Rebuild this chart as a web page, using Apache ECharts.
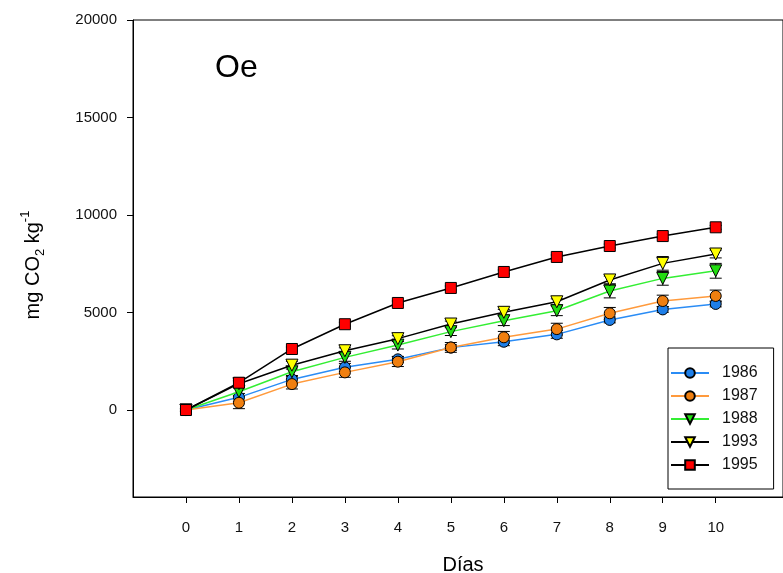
<!DOCTYPE html>
<html>
<head>
<meta charset="utf-8">
<script src="https://cdn.jsdelivr.net/npm/echarts@6/dist/echarts.min.js"></script>
<style>
  html, body { margin: 0; padding: 0; background: #fff; }
  #chart { width: 783px; height: 573px; }
</style>
</head>
<body>
<div id="chart"></div>
<script>
// datos
const days = [0, 1, 2, 3, 4, 5, 6, 7, 8, 9, 10];
const years = ['1986', '1987', '1988', '1993', '1995'];
const s1986 = [0, 650, 1570, 2190, 2600, 3200, 3500, 3880, 4620, 5160, 5440];
const s1987 = [0, 370, 1330, 1930, 2480, 3210, 3730, 4150, 4960, 5590, 5850];
const s1988 = [0, 940, 1960, 2700, 3330, 4020, 4580, 5090, 6100, 6750, 7140];
const s1993 = [0, 1350, 2300, 3040, 3660, 4410, 5010, 5550, 6670, 7520, 8000];
const s1995 = [0, 1400, 3130, 4400, 5490, 6260, 7080, 7850, 8410, 8920, 9370];
// errores (barras)
const e1986 = [60, 200, 200, 200, 150, 150, 200, 200, 150, 150, 150];
const e1987 = [60, 300, 250, 250, 250, 250, 300, 300, 300, 300, 300];
const e1988 = [60, 200, 250, 200, 200, 200, 250, 250, 350, 350, 380];
const e1993 = [60, 150, 200, 150, 150, 150, 150, 150, 200, 350, 200];
const e1995 = [60, 100, 100, 100, 100, 100, 100, 100, 100, 100, 100];
const yTicks = [0, 5000, 10000, 15000, 20000];

const chart = echarts.init(document.getElementById('chart'));

const font = 'Liberation Sans, Arial, sans-serif';

const styles = [
  { line: '#2a8cf5', fill: '#1f7fe8', symbol: 'circle', size: 11, rotate: 0 },
  { line: '#ff9a3c', fill: '#f07f10', symbol: 'circle', size: 11, rotate: 0 },
  { line: '#33ee33', fill: '#22dd11', symbol: 'triangle', size: 12, rotate: 180 },
  { line: '#000000', fill: '#ffff00', symbol: 'triangle', size: 12, rotate: 180 },
  { line: '#000000', fill: '#ff0000', symbol: 'rect', size: 11, rotate: 0 }
];
const values = [s1986, s1987, s1988, s1993, s1995];
const errors = [e1986, e1987, e1988, e1993, e1995];

// barras de error con custom series
function errorSeries(vals, errs) {
  return {
    type: 'custom',
    silent: true,
    z: 1,
    data: days.map((d, i) => [d, vals[i], errs[i]]),
    renderItem: function (params, api) {
      const x = api.value(0), y = api.value(1), e = api.value(2);
      const top = api.coord([x, y + e]);
      const bot = api.coord([x, y - e]);
      const w = 6;
      const st = { stroke: '#000', lineWidth: 1 };
      return {
        type: 'group',
        children: [
          { type: 'line', shape: { x1: top[0], y1: top[1], x2: bot[0], y2: bot[1] }, style: st },
          { type: 'line', shape: { x1: top[0] - w, y1: top[1], x2: top[0] + w, y2: top[1] }, style: st },
          { type: 'line', shape: { x1: bot[0] - w, y1: bot[1], x2: bot[0] + w, y2: bot[1] }, style: st }
        ]
      };
    }
  };
}

const series = [];
values.forEach((vals, k) => {
  series.push(errorSeries(vals, errors[k]));
});
values.forEach((vals, k) => {
  const s = styles[k];
  series.push({
    name: years[k],
    type: 'line',
    z: 2 + k,
    data: days.map((d, i) => [d, vals[i]]),
    symbol: s.symbol,
    symbolSize: s.size,
    symbolRotate: s.rotate,
    showAllSymbol: true,
    lineStyle: { color: s.line, width: 1.5 },
    itemStyle: { color: s.fill, borderColor: '#000', borderWidth: 1, opacity: 1 },
    emphasis: { disabled: true }
  });
});

const option = {
  animation: false,
  backgroundColor: '#fff',
  grid: {
    left: 133, top: 20, width: 680, height: 477,
    show: true, borderColor: '#000', borderWidth: 1
  },
  xAxis: {
    type: 'value',
    min: -1,
    max: 11.27,
    splitLine: { show: false },
    axisLine: { show: true, onZero: false, lineStyle: { color: '#000', width: 1 } },
    axisTick: { show: true, customValues: days, length: 6, lineStyle: { color: '#000' } },
    axisLabel: {
      customValues: days, margin: 23,
      color: '#111', fontSize: 15, fontFamily: font
    }
  },
  yAxis: {
    type: 'value',
    min: -4460,
    max: 20000,
    splitLine: { show: false },
    axisLine: { show: true, onZero: false, lineStyle: { color: '#000', width: 1 } },
    axisTick: { show: true, customValues: yTicks, length: 6, lineStyle: { color: '#000' } },
    axisLabel: {
      customValues: yTicks, margin: 16,
      color: '#111', fontSize: 15, fontFamily: font,
      formatter: function (v) { return String(v); }
    }
  },
  legend: {
    left: 668,
    top: 348,
    orient: 'vertical',
    data: years,
    backgroundColor: '#fff',
    borderColor: '#000',
    borderWidth: 1,
    borderRadius: 0,
    padding: [17, 16, 16, 2],
    itemWidth: 38,
    itemHeight: 12,
    itemGap: 7,
    textStyle: { color: '#111', fontSize: 16, fontFamily: font, padding: [0, 0, 0, 8] }
  },
  graphic: [
    {
      type: 'text', left: 215, top: 52,
      style: { text: 'Oe', fontSize: 32, fontFamily: font, fill: '#000' }
    },
    {
      type: 'text', x: 33, y: 265, rotation: Math.PI / 2,
      style: {
        text: 'mg CO{sub|2} kg{sup|-1}',
        fontSize: 20, fontFamily: font, fill: '#000',
        align: 'center', verticalAlign: 'middle', lineHeight: 28,
        rich: {
          sub: { fontSize: 13, fontFamily: font, fill: '#000', verticalAlign: 'bottom', lineHeight: 28 },
          sup: { fontSize: 13, fontFamily: font, fill: '#000', verticalAlign: 'top', lineHeight: 28 }
        }
      }
    },
    {
      type: 'text', x: 463, y: 565,
      style: { text: 'Días', fontSize: 20, fontFamily: font, fill: '#000', align: 'center', verticalAlign: 'middle' }
    }
  ],
  series: series
};

chart.setOption(option);
</script>
</body>
</html>
